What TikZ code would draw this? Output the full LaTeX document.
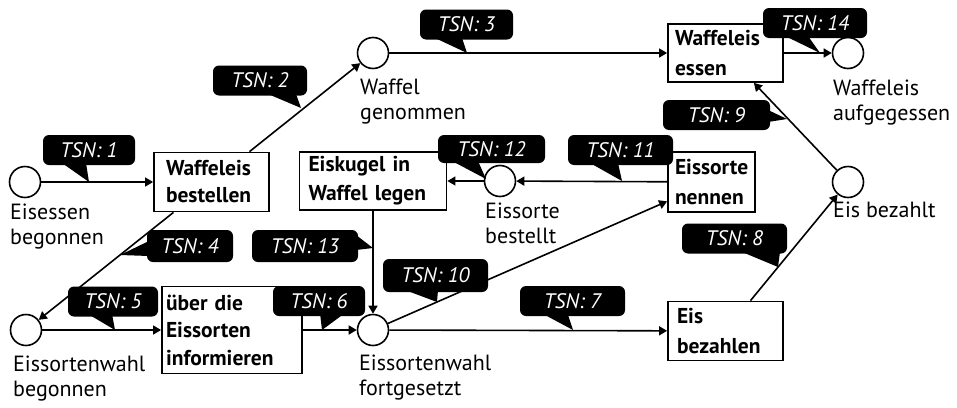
\documentclass[tikz,border=0pt]{standalone}
\usepackage{fontspec}
\setmainfont{PT Sans}
\usetikzlibrary{arrows.meta}
\begin{document}
\begin{tikzpicture}[x=1pt,y=-1pt,
  every node/.style={font=\fontsize{22}{25}\selectfont},
  state/.style={circle, draw, line width=1.6pt, minimum size=31pt, inner sep=0pt, fill=white},
  act/.style={draw, line width=1.8pt, align=left, inner ysep=0pt, fill=white},
  lbl/.style={align=left, anchor=base west, inner sep=0pt},
  tsn/.style={fill=black, rounded corners=6pt, text=white, inner sep=0pt, minimum height=30pt,
    font=\fontsize{21}{24}\selectfont\itshape},
  conn/.style={-{Triangle[length=8pt,width=9pt]}, line width=1.6pt},
  tail/.style={fill=black}
]
\useasboundingbox (0,0) rectangle (957,407);

% states
\node[state] (c1) at (25,182) {};
\node[state] (c2) at (26,330) {};
\node[state] (c3) at (373,330) {};
\node[state] (c4) at (848,182) {};
\node[state] (c5) at (848,53) {};
\node[state] (c6) at (373,53) {};
\node[state] (c7) at (500,181) {};

% activities
\node[act, minimum width=115pt, minimum height=59pt, text width=91pt, inner xsep=12pt,
  font=\fontsize{21.5}{27}\selectfont\bfseries] (b1) at (211.5,182) {Waffeleis\\bestellen};
\node[act, minimum width=140pt, minimum height=87pt, text width=132pt, inner xsep=4pt,
  font=\fontsize{21.5}{27.5}\selectfont\bfseries] (b2) at (232,330) {über die\\Eissorten\\informieren};
\node[act, minimum width=115pt, minimum height=59pt, text width=97pt, inner xsep=9pt,
  font=\fontsize{21.5}{30}\selectfont\bfseries] (b3) at (725.5,331) {Eis\\bezahlen};
\node[act, minimum width=87pt, minimum height=60pt, text width=73pt, inner xsep=7pt,
  font=\fontsize{21.5}{30}\selectfont\bfseries] (b4) at (711.5,182) {Eissorte\\nennen};
\node[act, minimum width=115pt, minimum height=58pt, text width=101pt, inner xsep=7pt,
  font=\fontsize{21.5}{30}\selectfont\bfseries] (b5) at (725.5,53) {Waffeleis\\essen};
\node[act, minimum width=147pt, minimum height=58pt, text width=129pt, inner xsep=9pt,
  font=\fontsize{21.5}{29}\selectfont\bfseries] (b6) at (373,181) {Eiskugel in\\Waffel legen};

% labels (anchor = baseline of last line)
\node[lbl] (l1) at (10,244) {Eisessen\\begonnen};
\node[lbl] (l2) at (13,396) {Eissortenwahl\\begonnen};
\node[lbl] (l3) at (359,395) {Eissortenwahl\\fortgesetzt};
\node[lbl] (l4) at (833,217) {Eis bezahlt};
\node[lbl] (l5) at (833,120) {Waffeleis\\aufgegessen};
\node[lbl] (l6) at (360,119) {Waffel\\genommen};
\node[lbl] (l7) at (485,243) {Eissorte\\bestellt};

% connectors
\draw[conn] (c1) -- (b1);
\draw[conn] (b1) -- (c6);
\draw[conn] (b1) -- (c2);
\draw[conn] (c6) -- (b5);
\draw[conn] (b5) -- (c5);
\draw[conn] (c2) -- (b2);
\draw[conn] (b2) -- (c3);
\draw[conn] (c3) -- (b3);
\draw[conn] (b3) -- (c4);
\draw[conn] (c4) -- (b5);
\draw[conn] (c3) -- (b4);
\draw[conn] (b4) -- (c7);
\draw[conn] (c7) -- (b6);
\draw[conn] (b6) -- (c3);

% callouts
\node[tsn, minimum width=92pt] (t1) at (89,150) {TSN: 1};
\fill[tail] (62,163) -- (89,182) -- (86,163) -- cycle;
\node[tsn, minimum width=94pt] (t2) at (260,80.5) {TSN: 2};
\fill[tail] (268,94) -- (301,108) -- (296,94) -- cycle;
\node[tsn, minimum width=93pt] (t3) at (466.5,24.5) {TSN: 3};
\fill[tail] (435,38) -- (467,53) -- (462,38) -- cycle;
\node[tsn, minimum width=86pt, minimum height=32pt] (t4) at (190,246) {TSN: 4};
\fill[tail] (149,241) -- (120,255) -- (149,256) -- cycle;
\node[tsn, minimum width=90pt] (t5) at (113,301.5) {TSN: 5};
\fill[tail] (88,314) -- (115,330) -- (112,314) -- cycle;
\node[tsn, minimum width=92pt] (t6) at (319,301) {TSN: 6};
\fill[tail] (320,313) -- (322,330) -- (345,313) -- cycle;
\node[tsn, minimum width=105pt] (t7) at (572.5,301) {TSN: 7};
\fill[tail] (545,315) -- (573,330) -- (568,315) -- cycle;
\node[tsn, minimum width=105pt] (t8) at (734.5,238.5) {TSN: 8};
\fill[tail] (742,252) -- (778,267) -- (780,252) -- cycle;
\node[tsn, minimum width=107pt] (t9) at (716.5,115) {TSN: 9};
\fill[tail] (768,110) -- (787,119) -- (768,122) -- cycle;
\node[tsn, minimum width=105pt, minimum height=33pt] (t10) at (435.5,275.5) {TSN: 10};
\fill[tail] (405,290) -- (437,302) -- (438,290) -- cycle;
\node[tsn, minimum width=105pt] (t11) at (620.5,150) {TSN: 11};
\fill[tail] (590,163) -- (622,181) -- (618,163) -- cycle;
\node[tsn, minimum width=107pt, minimum height=28pt] (t12) at (491.5,149) {TSN: 12};
\fill[tail] (452,161) -- (486,179) -- (478,161) -- cycle;
\node[tsn, minimum width=106pt, minimum height=32pt] (t13) at (305,246) {TSN: 13};
\fill[tail] (356,235) -- (373,248) -- (356,250) -- cycle;
\node[tsn, minimum width=104pt] (t14) at (815,23) {TSN: 14};
\fill[tail] (785,36) -- (820,53) -- (808,36) -- cycle;
\end{tikzpicture}
\end{document}
